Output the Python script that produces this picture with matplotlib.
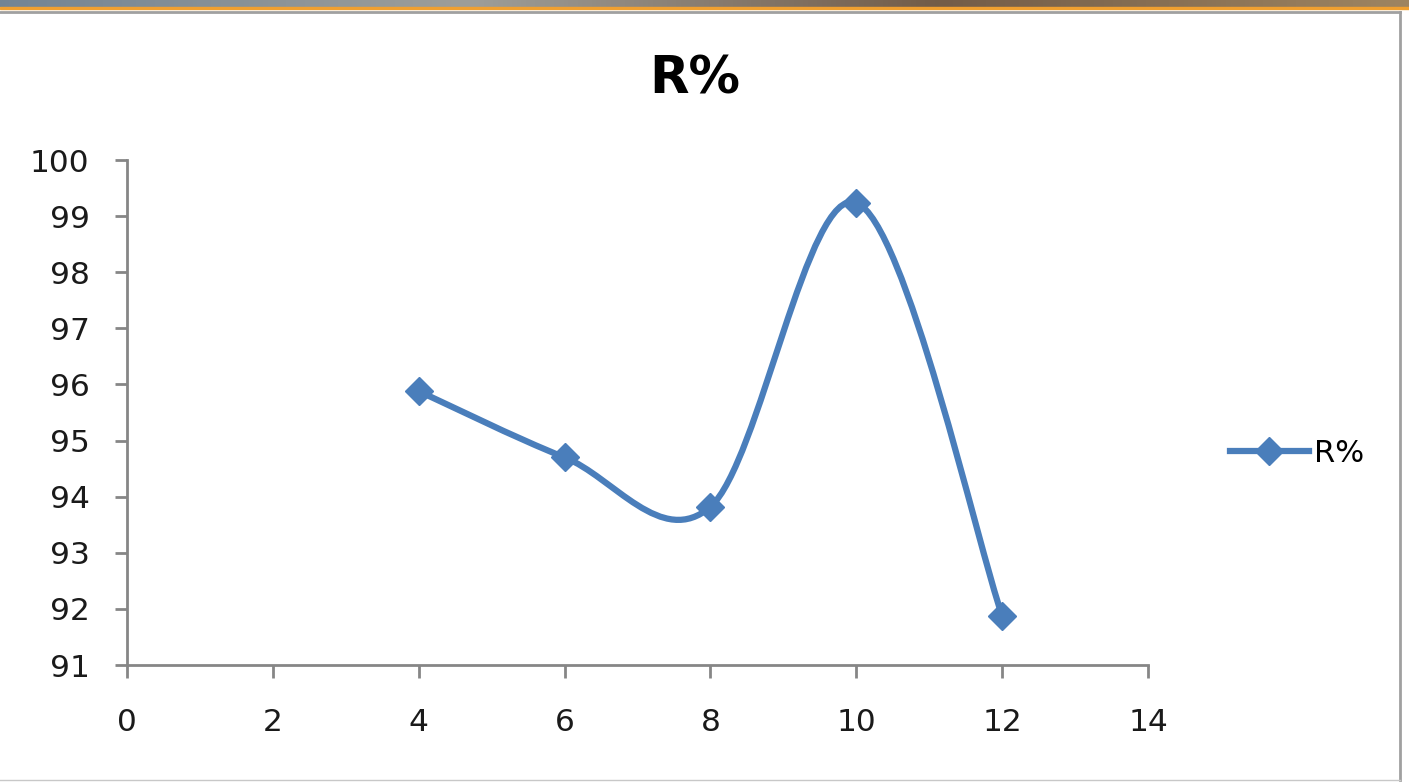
import numpy as np
import matplotlib
matplotlib.use("Agg")
import matplotlib.pyplot as plt
from matplotlib.path import Path
from matplotlib.patches import PathPatch, Rectangle
from matplotlib.lines import Line2D

# R% readings
x_vals = [4, 6, 8, 10, 12]
r_vals = [95.88, 94.70, 93.82, 99.24, 91.88]

LINE_COLOR = "#4a7ebb"
AXIS_COLOR = "#868686"


def smooth_path(xs, ys):
    '''Catmull-Rom style bezier through the points (like a smoothed spreadsheet line)'''
    pts = np.column_stack([xs, ys]).astype(float)
    n = len(pts)
    verts = [pts[0]]
    codes = [Path.MOVETO]
    for i in range(n - 1):
        p0 = pts[i - 1] if i > 0 else pts[i]
        p1 = pts[i]
        p2 = pts[i + 1]
        p3 = pts[i + 2] if i + 2 < n else pts[i + 1]
        c1 = p1 + (p2 - p0) / 6.0
        c2 = p2 - (p3 - p1) / 6.0
        verts += [c1, c2, p2]
        codes += [Path.CURVE4] * 3
    return Path(verts, codes)


fig = plt.figure(figsize=(14.09, 7.83), dpi=100)

# window strip and frame around the chart
strip = fig.add_axes([0, 1 - 7 / 783, 1, 7 / 783])
grad = np.linspace(0, 1, 300)
cols = np.array([[0.45, 0.52, 0.58], [0.62, 0.62, 0.60], [0.45, 0.36, 0.28], [0.62, 0.52, 0.38]])
img = np.array([np.interp(grad, np.linspace(0, 1, 4), cols[:, k]) for k in range(3)]).T
strip.imshow(img[np.newaxis, :, :], aspect="auto", extent=[0, 1, 0, 1])
strip.axis("off")
fig.patches.append(Rectangle((0, 1 - 9 / 783), 1, 2 / 783, transform=fig.transFigure,
                             color="#f0a030", zorder=5))
fig.add_artist(Line2D([0, 1400 / 1409], [1 - 12 / 783] * 2, color="#a0a0a0", lw=2))
fig.add_artist(Line2D([1400 / 1409] * 2, [1 - 12 / 783, 3 / 783], color="#a0a0a0", lw=2))
fig.add_artist(Line2D([0, 1400 / 1409], [3 / 783] * 2, color="#c8c8c8", lw=1))

ax = fig.add_axes([127 / 1409, 1 - 665 / 783, 1021 / 1409, 505 / 783])

patch = PathPatch(smooth_path(x_vals, r_vals), facecolor="none", edgecolor=LINE_COLOR,
                  lw=4.5, capstyle="round", joinstyle="round", zorder=3)
ax.add_patch(patch)
ax.plot(x_vals, r_vals, linestyle="none", marker="D", markersize=14,
        color=LINE_COLOR, zorder=4, clip_on=False)

ax.set_xlim(0, 14)
ax.set_ylim(91, 100)
ax.set_xticks(range(0, 15, 2))
ax.set_yticks(range(91, 101))

for side in ["top", "right"]:
    ax.spines[side].set_visible(False)
for side in ["left", "bottom"]:
    ax.spines[side].set_color(AXIS_COLOR)
    ax.spines[side].set_linewidth(2)
ax.tick_params(direction="out", length=9, width=2, color=AXIS_COLOR,
               labelsize=22.5, labelcolor="#1a1a1a")
ax.tick_params(axis="x", pad=22)
ax.tick_params(axis="y", pad=18)

fig.text(695 / 1409, 1 - 80 / 783, "R%", fontsize=37, fontweight="bold",
         ha="center", va="center")

handle = Line2D([], [], color=LINE_COLOR, lw=4.5, marker="D", markersize=14)
fig.legend([handle], ["R%"], loc="center left", bbox_to_anchor=(1202 / 1409, 1 - 453 / 783),
           frameon=False, fontsize=22, handlelength=2.6, handletextpad=0.15)

fig.savefig("out.png", dpi=100, facecolor="white")
